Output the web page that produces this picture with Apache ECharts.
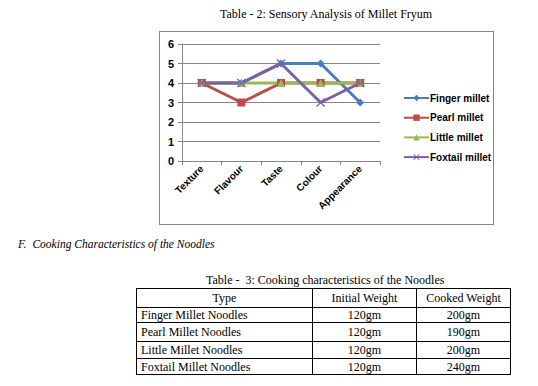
<!DOCTYPE html>
<html>
<head>
<meta charset="utf-8">
<script src="https://cdn.jsdelivr.net/npm/echarts@6/dist/echarts.min.js"></script>
<style>
  html, body { margin:0; padding:0; background:#fff; width:538px; height:386px; overflow:hidden; position:relative; }
  .doc { position:absolute; font-family:'Liberation Serif','Times New Roman',serif; color:#000; white-space:pre; }
  #chart { position:absolute; left:159px; top:31px; width:335px; height:194px; box-sizing:border-box; border:1px solid #868686; }
  table { position:absolute; left:136px; top:288px; border-collapse:collapse; font-family:'Liberation Serif','Times New Roman',serif; font-size:12px; color:#000; }
  td { border:1px solid #000; padding:0 4px; line-height:14px; white-space:nowrap; }
</style>
</head>
<body>
<div class="doc" id="chartTitle" style="left:220px;top:7px;font-size:12px;"></div>
<div id="chart"></div>
<div class="doc" id="sectionTitle" style="left:18px;top:238px;font-size:11.5px;font-style:italic;"></div>
<div class="doc" id="tableTitle" style="left:206px;top:273px;font-size:12px;"></div>
<table id="tbl"></table>
<script>
// ---- data ----
var chartTitle = 'Table - 2: Sensory Analysis of Millet Fryum';
var categories = ['Texture', 'Flavour', 'Taste', 'Colour', 'Appearance'];
var fingerMillet = [4, 4, 5, 5, 3];
var pearlMillet = [4, 3, 4, 4, 4];
var littleMillet = [4, 4, 4, 4, 4];
var foxtailMillet = [4, 4, 5, 3, 4];
var seriesNames = ['Finger millet', 'Pearl millet', 'Little millet', 'Foxtail millet'];

var sectionLetter = 'F.';
var sectionText = 'Cooking Characteristics of the Noodles';
var tableTitle = 'Table -  3: Cooking characteristics of the Noodles';
var tableHeaders = ['Type', 'Initial Weight', 'Cooked Weight'];
var noodleTypes = ['Finger Millet Noodles', 'Pearl Millet Noodles', 'Little Millet Noodles', 'Foxtail Millet Noodles'];
var initialWeights = ['120gm', '120gm', '120gm', '120gm'];
var cookedWeights = ['200gm', '190gm', '200gm', '240gm'];

// ---- document text ----
document.getElementById('chartTitle').textContent = chartTitle;
document.getElementById('sectionTitle').innerHTML = '<span>' + sectionLetter + '</span><span style="margin-left:6px">' + sectionText + '</span>';
document.getElementById('tableTitle').textContent = tableTitle;

var widths = [167, 95, 85];
var rowHeights = [19, 15, 19, 17, 16];
var tbl = document.getElementById('tbl');
function addRow(cells, h, isHeader) {
  var tr = document.createElement('tr');
  cells.forEach(function (c, i) {
    var td = document.createElement('td');
    td.textContent = c;
    td.style.width = widths[i] + 'px';
    td.style.height = (h - 1) + 'px';
    td.style.textAlign = (i === 0 && !isHeader) ? 'left' : 'center';
    tr.appendChild(td);
  });
  tbl.appendChild(tr);
}
addRow(tableHeaders, rowHeights[0], true);
for (var i = 0; i < noodleTypes.length; i++) {
  addRow([noodleTypes[i], initialWeights[i], cookedWeights[i]], rowHeights[i + 1], false);
}

// ---- chart ----
var font = "'Liberation Sans Narrow','Arial Narrow','Liberation Sans',Arial,sans-serif";
var colors = ['#4A7EBB', '#BE4B48', '#98B954', '#7D60A0'];
var xPath = 'path://M0,1L1,0L5,4L9,0L10,1L6,5L10,9L9,10L5,6L1,10L0,9L4,5Z';
var symbols = ['diamond', 'rect', 'triangle', xPath];
var symbolSizes = [8, 8, 8, 9];
var values = [fingerMillet, pearlMillet, littleMillet, foxtailMillet];

var chart = echarts.init(document.getElementById('chart'), null, { renderer: 'svg' });
chart.setOption({
  animation: false,
  color: colors,
  grid: { left: 22, right: 113, top: 12, bottom: 63, containLabel: false },
  legend: {
    orient: 'vertical',
    left: 238,
    top: 56,
    itemWidth: 25,
    itemHeight: 8,
    itemGap: 9.7,
    textStyle: { fontFamily: font, fontWeight: 'bold', fontSize: 10, color: '#000', padding: [0, 0, 0, -4] },
    data: seriesNames
  },
  xAxis: {
    type: 'category',
    data: categories,
    boundaryGap: true,
    axisLine: { lineStyle: { color: '#868686', width: 1 } },
    axisTick: { show: true, length: 4, lineStyle: { color: '#868686' } },
    axisLabel: { rotate: 45, margin: 6, fontFamily: font, fontWeight: 'bold', fontSize: 10, color: '#000' }
  },
  yAxis: {
    type: 'value',
    min: 0,
    max: 6,
    interval: 1,
    axisLine: { show: true, lineStyle: { color: '#868686', width: 1 } },
    axisTick: { show: true, length: 4, lineStyle: { color: '#868686' } },
    axisLabel: { margin: 8, fontFamily: font, fontWeight: 'bold', fontSize: 11, color: '#000' },
    splitLine: { lineStyle: { color: '#868686', width: 1 } }
  },
  series: values.map(function (v, i) {
    return {
      name: seriesNames[i],
      type: 'line',
      data: v,
      symbol: symbols[i],
      symbolSize: symbolSizes[i],
      showSymbol: true,
      lineStyle: { width: 3, color: colors[i] },
      itemStyle: { color: colors[i] }
    };
  })
});
</script>
</body>
</html>
